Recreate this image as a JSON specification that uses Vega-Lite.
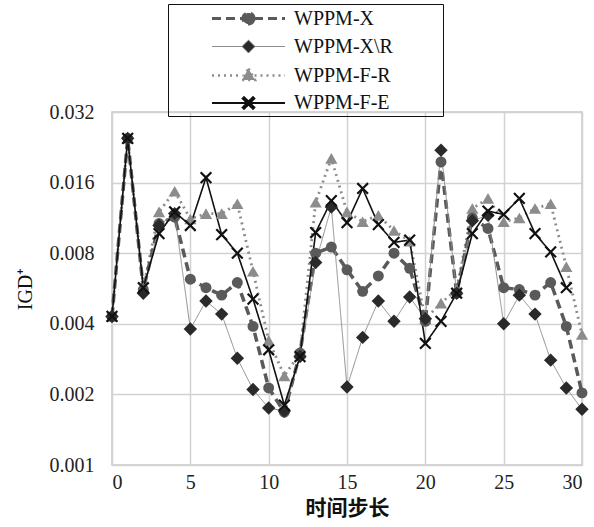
{
  "$schema": "https://vega.github.io/schema/vega-lite/v6.json",
  "width": 470,
  "height": 353,
  "autosize": {"type": "none"},
  "padding": {"left": 112, "top": 112, "right": 12, "bottom": 62},
  "background": "white",
  "config": {"view": {"stroke": "#c8c8c8", "strokeWidth": 1.5}, "font": "Liberation Serif"},
  "data": {"values": [
    {"x":0,"series":"WPPM-F-R","y":0.0043},{"x":1,"series":"WPPM-F-R","y":0.0247},{"x":2,"series":"WPPM-F-R","y":0.0057},{"x":3,"series":"WPPM-F-R","y":0.0120},{"x":4,"series":"WPPM-F-R","y":0.0147},{"x":5,"series":"WPPM-F-R","y":0.0112},{"x":6,"series":"WPPM-F-R","y":0.0118},{"x":7,"series":"WPPM-F-R","y":0.0118},{"x":8,"series":"WPPM-F-R","y":0.0130},{"x":9,"series":"WPPM-F-R","y":0.0067},{"x":10,"series":"WPPM-F-R","y":0.0034},{"x":11,"series":"WPPM-F-R","y":0.0024},{"x":12,"series":"WPPM-F-R","y":0.0030},{"x":13,"series":"WPPM-F-R","y":0.0132},{"x":14,"series":"WPPM-F-R","y":0.0203},{"x":15,"series":"WPPM-F-R","y":0.0120},{"x":16,"series":"WPPM-F-R","y":0.0109},{"x":17,"series":"WPPM-F-R","y":0.0116},{"x":18,"series":"WPPM-F-R","y":0.0100},{"x":19,"series":"WPPM-F-R","y":0.0090},{"x":20,"series":"WPPM-F-R","y":0.0042},{"x":21,"series":"WPPM-F-R","y":0.0049},{"x":22,"series":"WPPM-F-R","y":0.0056},{"x":23,"series":"WPPM-F-R","y":0.0124},{"x":24,"series":"WPPM-F-R","y":0.0137},{"x":25,"series":"WPPM-F-R","y":0.0109},{"x":26,"series":"WPPM-F-R","y":0.0113},{"x":27,"series":"WPPM-F-R","y":0.0124},{"x":28,"series":"WPPM-F-R","y":0.0130},{"x":29,"series":"WPPM-F-R","y":0.0070},{"x":30,"series":"WPPM-F-R","y":0.0036},
    {"x":0,"series":"WPPM-X","y":0.0043},{"x":1,"series":"WPPM-X","y":0.0247},{"x":2,"series":"WPPM-X","y":0.0056},{"x":3,"series":"WPPM-X","y":0.0107},{"x":4,"series":"WPPM-X","y":0.0114},{"x":5,"series":"WPPM-X","y":0.0062},{"x":6,"series":"WPPM-X","y":0.0057},{"x":7,"series":"WPPM-X","y":0.0053},{"x":8,"series":"WPPM-X","y":0.0060},{"x":9,"series":"WPPM-X","y":0.0039},{"x":10,"series":"WPPM-X","y":0.00213},{"x":11,"series":"WPPM-X","y":0.00168},{"x":12,"series":"WPPM-X","y":0.0030},{"x":13,"series":"WPPM-X","y":0.0080},{"x":14,"series":"WPPM-X","y":0.0085},{"x":15,"series":"WPPM-X","y":0.0068},{"x":16,"series":"WPPM-X","y":0.0055},{"x":17,"series":"WPPM-X","y":0.0064},{"x":18,"series":"WPPM-X","y":0.0080},{"x":19,"series":"WPPM-X","y":0.0069},{"x":20,"series":"WPPM-X","y":0.0041},{"x":21,"series":"WPPM-X","y":0.0196},{"x":22,"series":"WPPM-X","y":0.0054},{"x":23,"series":"WPPM-X","y":0.0113},{"x":24,"series":"WPPM-X","y":0.0102},{"x":25,"series":"WPPM-X","y":0.0057},{"x":26,"series":"WPPM-X","y":0.0056},{"x":27,"series":"WPPM-X","y":0.0053},{"x":28,"series":"WPPM-X","y":0.0060},{"x":29,"series":"WPPM-X","y":0.0039},{"x":30,"series":"WPPM-X","y":0.00203},
    {"x":0,"series":"WPPM-X\\R","y":0.0043},{"x":1,"series":"WPPM-X\\R","y":0.0247},{"x":2,"series":"WPPM-X\\R","y":0.0054},{"x":3,"series":"WPPM-X\\R","y":0.0105},{"x":4,"series":"WPPM-X\\R","y":0.0118},{"x":5,"series":"WPPM-X\\R","y":0.0038},{"x":6,"series":"WPPM-X\\R","y":0.0050},{"x":7,"series":"WPPM-X\\R","y":0.0044},{"x":8,"series":"WPPM-X\\R","y":0.00285},{"x":9,"series":"WPPM-X\\R","y":0.0021},{"x":10,"series":"WPPM-X\\R","y":0.00175},{"x":11,"series":"WPPM-X\\R","y":0.0017},{"x":12,"series":"WPPM-X\\R","y":0.0029},{"x":13,"series":"WPPM-X\\R","y":0.0073},{"x":14,"series":"WPPM-X\\R","y":0.0126},{"x":15,"series":"WPPM-X\\R","y":0.00215},{"x":16,"series":"WPPM-X\\R","y":0.0035},{"x":17,"series":"WPPM-X\\R","y":0.0050},{"x":18,"series":"WPPM-X\\R","y":0.0041},{"x":19,"series":"WPPM-X\\R","y":0.0052},{"x":20,"series":"WPPM-X\\R","y":0.0042},{"x":21,"series":"WPPM-X\\R","y":0.0220},{"x":22,"series":"WPPM-X\\R","y":0.0054},{"x":23,"series":"WPPM-X\\R","y":0.0110},{"x":24,"series":"WPPM-X\\R","y":0.0116},{"x":25,"series":"WPPM-X\\R","y":0.0040},{"x":26,"series":"WPPM-X\\R","y":0.0053},{"x":27,"series":"WPPM-X\\R","y":0.0044},{"x":28,"series":"WPPM-X\\R","y":0.0028},{"x":29,"series":"WPPM-X\\R","y":0.00213},{"x":30,"series":"WPPM-X\\R","y":0.00173},
    {"x":0,"series":"WPPM-F-E","y":0.0043},{"x":1,"series":"WPPM-F-E","y":0.0247},{"x":2,"series":"WPPM-F-E","y":0.0057},{"x":3,"series":"WPPM-F-E","y":0.0097},{"x":4,"series":"WPPM-F-E","y":0.0120},{"x":5,"series":"WPPM-F-E","y":0.0105},{"x":6,"series":"WPPM-F-E","y":0.0168},{"x":7,"series":"WPPM-F-E","y":0.0096},{"x":8,"series":"WPPM-F-E","y":0.0080},{"x":9,"series":"WPPM-F-E","y":0.0051},{"x":10,"series":"WPPM-F-E","y":0.0031},{"x":11,"series":"WPPM-F-E","y":0.0018},{"x":12,"series":"WPPM-F-E","y":0.0029},{"x":13,"series":"WPPM-F-E","y":0.0098},{"x":14,"series":"WPPM-F-E","y":0.0134},{"x":15,"series":"WPPM-F-E","y":0.0108},{"x":16,"series":"WPPM-F-E","y":0.0151},{"x":17,"series":"WPPM-F-E","y":0.0106},{"x":18,"series":"WPPM-F-E","y":0.0089},{"x":19,"series":"WPPM-F-E","y":0.0091},{"x":20,"series":"WPPM-F-E","y":0.0033},{"x":21,"series":"WPPM-F-E","y":0.0041},{"x":22,"series":"WPPM-F-E","y":0.0054},{"x":23,"series":"WPPM-F-E","y":0.0097},{"x":24,"series":"WPPM-F-E","y":0.0121},{"x":25,"series":"WPPM-F-E","y":0.0117},{"x":26,"series":"WPPM-F-E","y":0.0137},{"x":27,"series":"WPPM-F-E","y":0.0097},{"x":28,"series":"WPPM-F-E","y":0.0081},{"x":29,"series":"WPPM-F-E","y":0.0057}
  ]},
  "encoding": {
    "x": {"field": "x", "type": "quantitative",
      "scale": {"domain": [0, 30], "nice": false, "zero": false},
      "axis": {"values": [0, 5, 10, 15, 20, 25, 30], "title": "时间步长",
        "titleFont": "Noto Sans CJK SC", "titleFontWeight": "bold", "titleFontSize": 21, "titleColor": "#111",
        "labelFont": "Liberation Serif", "labelFontSize": 20, "labelColor": "#222", "labelPadding": 7,
        "titlePadding": 5, "grid": true, "gridColor": "#d2d2d2", "gridWidth": 1.5,
        "domain": false, "ticks": false}},
    "y": {"field": "y", "type": "quantitative",
      "scale": {"type": "log", "base": 2, "domain": [0.001, 0.032], "nice": false},
      "axis": {"values": [0.001, 0.002, 0.004, 0.008, 0.016, 0.032], "format": ".3f", "title": "IGD⁺",
        "titleFont": "Liberation Serif", "titleFontWeight": "normal", "titleFontSize": 20, "titleColor": "#111",
        "labelFont": "Liberation Serif", "labelFontSize": 20, "labelColor": "#222", "labelPadding": 18,
        "titlePadding": 14, "grid": true, "gridColor": "#d2d2d2", "gridWidth": 1.5,
        "domain": false, "ticks": false}}
  },
  "layer": [
    {
      "mark": {"type": "line"},
      "encoding": {
        "color": {"field": "series", "type": "nominal", "legend": null,
          "scale": {"domain": ["WPPM-X", "WPPM-X\\R", "WPPM-F-R", "WPPM-F-E"], "range": ["#5a5a5a", "#8c8c8c", "#8c8c8c", "#111111"]}},
        "strokeDash": {"field": "series", "type": "nominal", "legend": null,
          "scale": {"domain": ["WPPM-X", "WPPM-X\\R", "WPPM-F-R", "WPPM-F-E"], "range": [[9, 5], [1, 0], [2, 4], [1, 0]]}},
        "strokeWidth": {"field": "series", "type": "nominal", "legend": null,
          "scale": {"type": "ordinal", "domain": ["WPPM-X", "WPPM-X\\R", "WPPM-F-R", "WPPM-F-E"], "range": [3.5, 1, 2.8, 1.6]}}
      }
    },
    {
      "mark": {"type": "point", "filled": true, "opacity": 1},
      "encoding": {
        "color": {"field": "series", "type": "nominal", "legend": null,
          "scale": {"domain": ["WPPM-X", "WPPM-X\\R", "WPPM-F-R", "WPPM-F-E"], "range": ["#5a5a5a", "#2a2a2a", "#8c8c8c", "#111111"]}},
        "shape": {"field": "series", "type": "nominal", "legend": null,
          "scale": {"domain": ["WPPM-X", "WPPM-X\\R", "WPPM-F-R", "WPPM-F-E"], "range": ["circle", "diamond", "triangle-up", "M-1,-0.75L-0.75,-1L0,-0.25L0.75,-1L1,-0.75L0.25,0L1,0.75L0.75,1L0,0.25L-0.75,1L-1,0.75L-0.25,0Z"]}},
        "size": {"field": "series", "type": "nominal", "legend": null,
          "scale": {"type": "ordinal", "domain": ["WPPM-X", "WPPM-X\\R", "WPPM-F-R", "WPPM-F-E"], "range": [120, 180, 150, 150]}}
      }
    },
    {
      "transform": [{"filter": "datum.x == 0"}],
      "mark": {"type": "point", "opacity": 0, "size": 400},
      "encoding": {
        "shape": {"field": "series", "type": "nominal",
          "scale": {"domain": ["WPPM-X", "WPPM-X\\R", "WPPM-F-R", "WPPM-F-E"], "range": [
            "M-3.65,0L-0.55,0M0.55,0L3.65,0M0.55,0A0.55,0.55 0 1,1 -0.55,0A0.55,0.55 0 1,1 0.55,0ZM18.5,0L18.5,0",
            "M-3.65,0L-0.65,0M0.65,0L3.65,0M0,-0.65L0.65,0L0,0.65L-0.65,0ZM18.5,0L18.5,0",
            "M-3.65,0L-0.6,0M0.6,0L3.65,0M0,-0.7L0.65,0.45L-0.65,0.45ZM18.5,0L18.5,0",
            "M-3.65,0L3.65,0M-0.6,-0.45L-0.45,-0.6L0,-0.15L0.45,-0.6L0.6,-0.45L0.15,0L0.6,0.45L0.45,0.6L0,0.15L-0.45,0.6L-0.6,0.45L-0.15,0ZM18.5,0L18.5,0"]},
          "legend": {"orient": "none", "legendX": 56, "legendY": -108, "title": null,
            "strokeColor": "#111", "padding": 3, "labelFont": "Liberation Serif", "labelFontSize": 20,
            "labelColor": "#111", "symbolOffset": 66, "labelOffset": 34, "symbolOpacity": 1, "rowPadding": 6, "symbolSize": 400,
            "encode": {"symbols": {"update": {"opacity": {"value": 1}, "size": {"value": 400}, "strokeCap": {"value": "butt"}}}}}},
        "fill": {"field": "series", "type": "nominal",
          "scale": {"domain": ["WPPM-X", "WPPM-X\\R", "WPPM-F-R", "WPPM-F-E"], "range": ["#5a5a5a", "#2a2a2a", "#8c8c8c", "#111111"]}},
        "stroke": {"field": "series", "type": "nominal",
          "scale": {"domain": ["WPPM-X", "WPPM-X\\R", "WPPM-F-R", "WPPM-F-E"], "range": ["#5a5a5a", "#8c8c8c", "#8c8c8c", "#111111"]}},
        "strokeDash": {"field": "series", "type": "nominal",
          "scale": {"domain": ["WPPM-X", "WPPM-X\\R", "WPPM-F-R", "WPPM-F-E"], "range": [[9, 5], [1, 0], [2, 4], [1, 0]]}},
        "strokeWidth": {"field": "series", "type": "nominal",
          "scale": {"type": "ordinal", "domain": ["WPPM-X", "WPPM-X\\R", "WPPM-F-R", "WPPM-F-E"], "range": [3, 1, 2.5, 1.8]}}
      }
    }
  ],
  "resolve": {"scale": {"color": "independent", "shape": "independent", "size": "independent", "strokeDash": "independent", "strokeWidth": "independent", "fill": "independent", "stroke": "independent"}}
}
